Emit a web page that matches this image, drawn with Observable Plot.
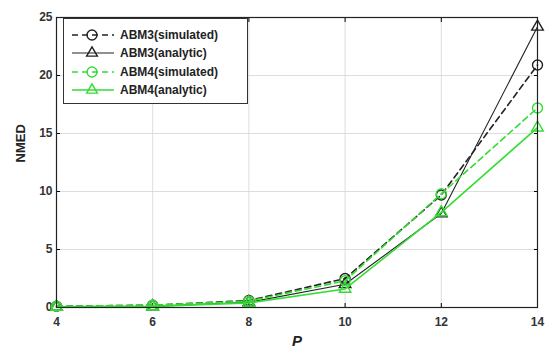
<!DOCTYPE html>
<html><head><meta charset="utf-8">
<script src="https://cdn.jsdelivr.net/npm/d3@7"></script>
<script src="https://cdn.jsdelivr.net/npm/@observablehq/plot@0.6"></script>
<style>
body{margin:0;background:#fff;font-family:"Liberation Sans",Arial,sans-serif;}
#wrap{position:relative;width:545px;height:349px;}
#legend{position:absolute;left:63px;top:18px;width:185px;height:86px;border:1px solid #333;background:#fff;box-sizing:border-box;font-weight:bold;font-size:12px;color:#222;}
.row{position:absolute;left:6px;height:16px;display:flex;align-items:center;}
.row svg{margin-right:4px;}
</style></head><body>
<div id="wrap"><div id="chart"></div><div id="legend"></div></div>
<script>
const P = [4, 6, 8, 10, 12, 14];
const abm3Sim = [0.1, 0.2, 0.6, 2.5, 9.7, 20.9];
const abm3Ana = [0.05, 0.1, 0.45, 2.0, 8.1, 24.2];
const abm4Sim = [0.1, 0.2, 0.55, 2.3, 9.8, 17.2];
const abm4Ana = [0.05, 0.1, 0.4, 1.6, 8.2, 15.5];
const yTicks = [0, 5, 10, 15, 20, 25];
const seriesNames = ["ABM3(simulated)", "ABM3(analytic)", "ABM4(simulated)", "ABM4(analytic)"];
const BLACK = "#222", GREEN = "#33dd33";
const styles = [
  {color: BLACK, dash: "6,4", sym: "circle", w: 1.6},
  {color: BLACK, dash: null, sym: "triangle", w: 1.1},
  {color: GREEN, dash: "6,4", sym: "circle", w: 1.6},
  {color: GREEN, dash: null, sym: "triangle", w: 1.6}
];
const allSeries = [abm3Sim, abm3Ana, abm4Sim, abm4Ana];
const data = allSeries.map((vals, i) => P.map((p, j) => ({p, v: vals[j], s: i})));

const marks = [
  Plot.gridX(P, {stroke: "#d4d4d4", strokeOpacity: 1, strokeWidth: 0.8}),
  Plot.gridY(yTicks, {stroke: "#d4d4d4", strokeOpacity: 1, strokeWidth: 0.8}),
  Plot.axisX(P, {anchor: "bottom", tickSize: -4, tickPadding: 14, fontWeight: "bold", fontSize: 12, fill: "#333", label: null}),
  Plot.axisX(P, {anchor: "top", tickSize: -4, tickFormat: () => "", label: null}),
  Plot.axisY(yTicks, {anchor: "left", tickSize: -4, tickPadding: 8, fontWeight: "bold", fontSize: 12, fill: "#333", label: null}),
  Plot.axisY(yTicks, {anchor: "right", tickSize: -4, tickFormat: () => "", label: null}),
];
data.forEach((d, i) => {
  const st = styles[i];
  marks.push(Plot.line(d, {x: "p", y: "v", stroke: st.color, strokeWidth: st.w, strokeDasharray: st.dash}));
  marks.push(Plot.dot(d, {x: "p", y: "v", stroke: st.color, strokeWidth: 1.4, symbol: st.sym, r: st.sym === "circle" ? 5 : 4.3, fill: "none"}));
});
marks.push(Plot.frame({stroke: "#222", strokeWidth: 1.2}));
marks.push(Plot.text(["NMED"], {frameAnchor: "left", dx: -36, rotate: -90, fontWeight: "bold", fontSize: 13, fill: "#222"}));
marks.push(Plot.text(["P"], {frameAnchor: "bottom", dy: 38, fontWeight: "bold", fontStyle: "italic", fontSize: 15, fill: "#222"}));

const chart = Plot.plot({
  width: 545, height: 349,
  marginLeft: 56, marginRight: 8, marginTop: 17, marginBottom: 42,
  style: {fontFamily: "Liberation Sans, Arial, sans-serif", background: "#fff", overflow: "visible"},
  x: {domain: [4, 14]},
  y: {domain: [0, 25]},
  marks
});
document.getElementById("chart").append(chart);

const leg = document.getElementById("legend");
const tops = [8, 26, 45, 63];
seriesNames.forEach((name, i) => {
  const st = styles[i];
  const row = document.createElement("div");
  row.className = "row";
  row.style.top = tops[i] + "px";
  const sym = st.sym === "circle"
    ? `<circle cx="22" cy="8" r="5" fill="none" stroke="${st.color}" stroke-width="1.4"/>`
    : `<path d="${d3.symbol(d3.symbolTriangle, 50)()}" transform="translate(22,8)" fill="none" stroke="${st.color}" stroke-width="1.4"/>`;
  row.innerHTML = `<svg width="46" height="16"><line x1="2" y1="8" x2="44" y2="8" stroke="${st.color}" stroke-width="${st.w}" ${st.dash ? `stroke-dasharray="${st.dash}"` : ""}/>${sym}</svg><span>${name}</span>`;
  leg.append(row);
});
</script>
</body></html>
